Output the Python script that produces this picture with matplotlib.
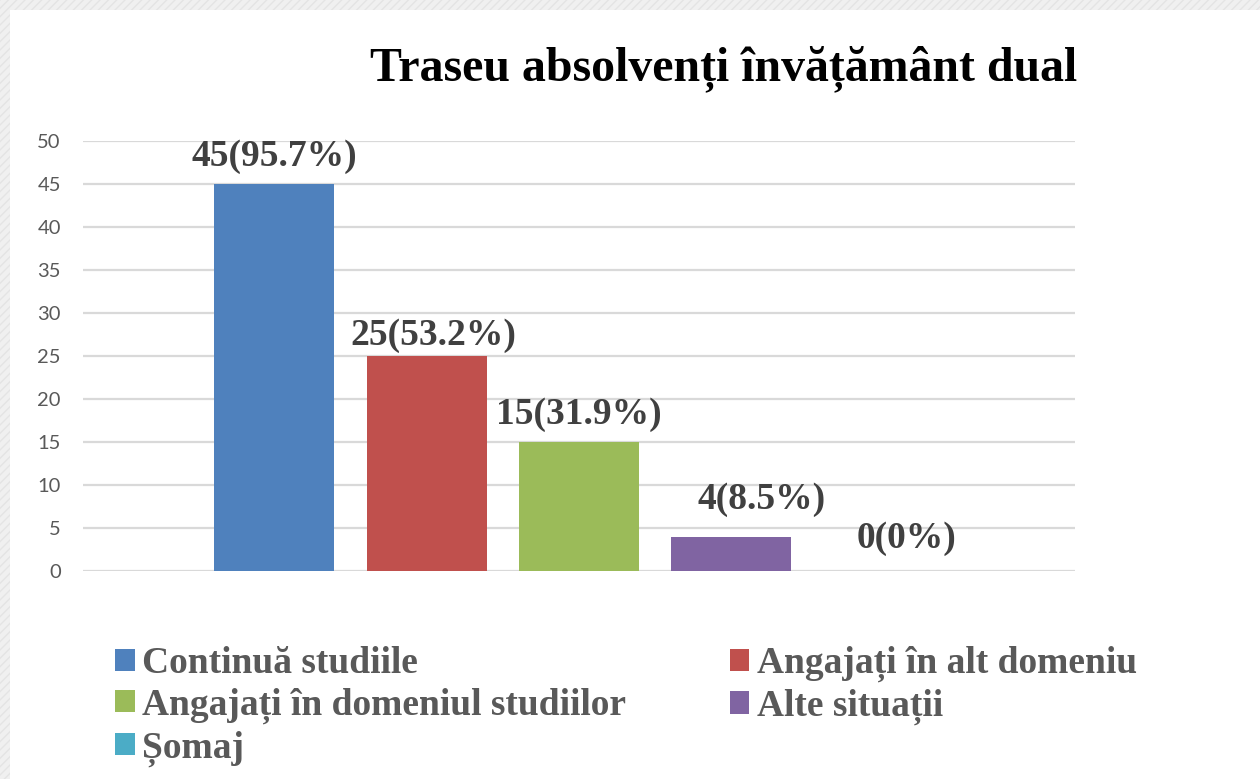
import matplotlib.pyplot as plt
from matplotlib.patches import Rectangle

# data
categories = ['Continuă studiile', 'Angajați în alt domeniu',
              'Angajați în domeniul studiilor', 'Alte situații', 'Șomaj']
counts = [45, 25, 15, 4, 0]
percents = ['95.7%', '53.2%', '31.9%', '8.5%', '0%']
colors = ['#4F81BD', '#C0504D', '#9BBB59', '#8064A2', '#4BACC6']
yticks = [0, 5, 10, 15, 20, 25, 30, 35, 40, 45, 50]

serif = 'Liberation Serif'
# small nudges of the value labels (points), as in the original
label_dx = [0, 5, 0, 22, 16]
label_dy = [13, 8, 13, 20, 17]

fig = plt.figure(figsize=(12.6, 7.79), dpi=100)
fig.patch.set_facecolor('white')

# grey slide border at top and left
fig.patches.append(Rectangle((0, 0), 10 / 1260, 1, transform=fig.transFigure,
                             facecolor='#f0f0f0', hatch='////', edgecolor='#e4e4e4',
                             linewidth=0, zorder=-1))
fig.patches.append(Rectangle((0, 1 - 10 / 779), 1, 10 / 779, transform=fig.transFigure,
                             facecolor='#f0f0f0', hatch='////', edgecolor='#e4e4e4',
                             linewidth=0, zorder=-1))

ax = fig.add_axes([83 / 1260, 1 - 571 / 779, (1075 - 83) / 1260, (571 - 141) / 779])
ax.set_facecolor('none')

x = list(range(len(categories)))
bars = ax.bar(x, counts, width=0.787, color=colors, zorder=3)

for xi, c, p, dx, dy in zip(x, counts, percents, label_dx, label_dy):
    ax.annotate(f'{c}({p})', (xi, c), xytext=(dx, dy), textcoords='offset points',
                ha='center', va='baseline', fontsize=27, fontweight='bold',
                family=serif, color='#404040', zorder=4)

ax.set_xlim(-1.253, 4 + 1.253)
ax.set_ylim(0, 50)
ax.set_yticks(yticks)
ax.set_xticks([])
ax.yaxis.grid(True, color='#d9d9d9', linewidth=1.6, zorder=0)
ax.tick_params(axis='y', length=0, pad=16, labelsize=14.5, labelcolor='#595959')
for lbl in ax.get_yticklabels():
    lbl.set_family('Lato')
for s in ax.spines.values():
    s.set_visible(False)

fig.text(724 / 1260, 1 - 80 / 779, 'Traseu absolvenți învățământ dual',
         ha='center', va='baseline', fontsize=34.5, fontweight='bold',
         family=serif, color='black')

# legend in row-major order like the original
order = [0, 2, 4, 1, 3]
leg = ax.legend([bars[i] for i in order], [categories[i] for i in order],
                ncol=2, loc='upper left', bbox_to_anchor=(115 / 1260, 1 - 646 / 779),
                bbox_transform=fig.transFigure, frameon=False,
                prop={'family': serif, 'weight': 'bold', 'size': 27},
                handlelength=0.53, handleheight=0.53, handletextpad=0.2,
                columnspacing=2.75, labelspacing=0.17, borderpad=0, borderaxespad=0)
for t in leg.get_texts():
    t.set_color('#595959')

fig.savefig('out.png', dpi=100, facecolor=fig.get_facecolor())
